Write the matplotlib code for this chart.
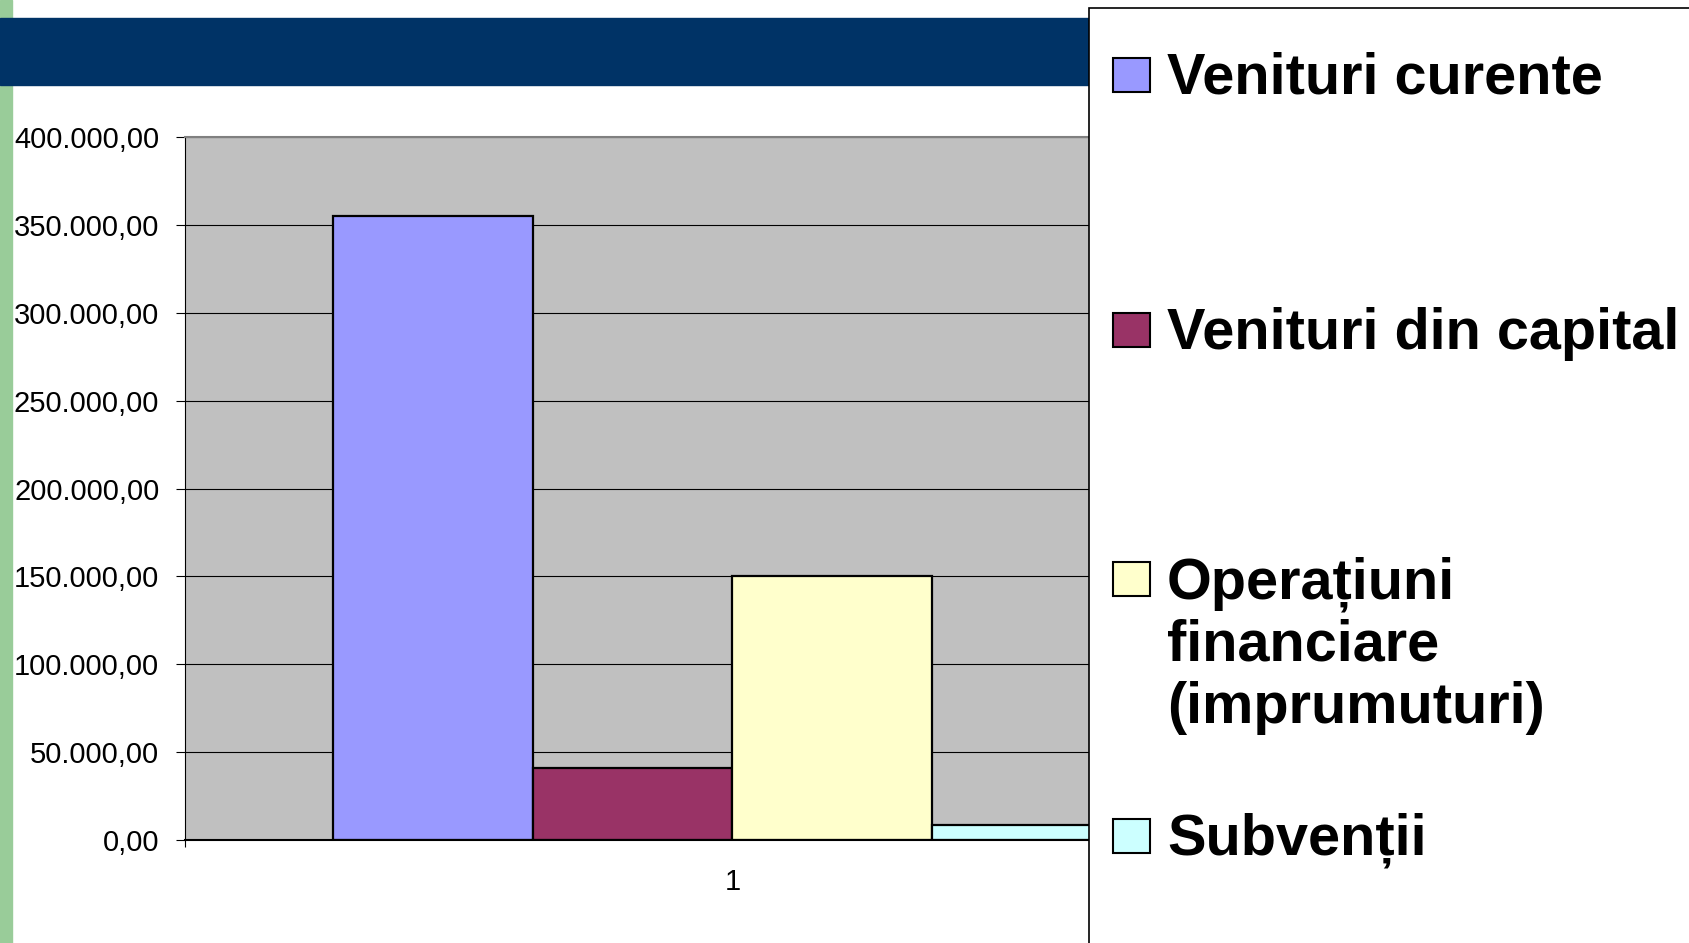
import matplotlib
matplotlib.use("Agg")
import matplotlib.pyplot as plt
from matplotlib.patches import Rectangle
from matplotlib.ticker import FuncFormatter

plt.rcParams["font.family"] = ["Liberation Sans", "DejaVu Sans"]

# data
categories = ["1"]
series = ["Venituri curente", "Venituri din capital",
          "Operațiuni\nfinanciare\n(imprumuturi)", "Subvenții"]
values = [355000, 41000, 150000, 8500]
colors = ["#9999FF", "#993366", "#FFFFCC", "#CCFFFF"]
y_ticks = [0, 50000, 100000, 150000, 200000, 250000, 300000, 350000, 400000]

W, H = 1690, 943


def fx(px):
    return px / W


def fy(py):
    return 1 - py / H


fig = plt.figure(figsize=(W / 100, H / 100), dpi=100)

# slide decorations
fig.add_artist(Rectangle((0, 0), fx(12), 1, transform=fig.transFigure,
                         color="#99CC99", zorder=0.2))
fig.add_artist(Rectangle((0, fy(85)), fx(1089), (85 - 18) / H,
                         transform=fig.transFigure, color="#003366", zorder=0.3))

ax = fig.add_axes([fx(185), fy(840), (1280 - 185) / W, (840 - 137) / H])
ax.set_facecolor("#C0C0C0")

group = 0.73
w = group / len(values)
x0 = 1 - group / 2
for i, (v, c) in enumerate(zip(values, colors)):
    ax.bar(x0 + i * w, v, width=w, align="edge", color=c,
           edgecolor="black", linewidth=1.6, zorder=2)

ax.set_xlim(0.5, 1.5)
ax.set_ylim(y_ticks[0], y_ticks[-1])
ax.set_yticks(y_ticks)
ax.yaxis.set_major_formatter(FuncFormatter(
    lambda v, _: f"{v:,.2f}".replace(",", "X").replace(".", ",").replace("X", ".")))
ax.yaxis.grid(True, color="black", linewidth=0.8)
ax.set_axisbelow(True)

ax.set_xticks([1])
ax.set_xticklabels(categories)
ax.set_xticks([0.5, 1.5], minor=True)
ax.tick_params(axis="x", which="major", length=0, pad=20, labelsize=21)
ax.tick_params(axis="x", which="minor", length=5, width=0.8, direction="out")
ax.tick_params(axis="y", length=6.5, width=0.8, pad=12, labelsize=21)

ax.spines["top"].set_color("#808080")
ax.spines["top"].set_linewidth(1.5)
ax.spines["left"].set_linewidth(0.8)
ax.spines["bottom"].set_linewidth(1.5)
ax.spines["right"].set_visible(False)

# legend panel
fig.add_artist(Rectangle((fx(1089), -0.05), 0.5, fy(8) + 0.05,
                         transform=fig.transFigure, facecolor="white",
                         edgecolor="black", linewidth=1.2, zorder=5))
baselines = [94, 349, 598, 855]
for label, c, base in zip(series, colors, baselines):
    fig.add_artist(Rectangle((fx(1113), fy(base - 2)), (1150 - 1113) / W, 34 / H,
                             transform=fig.transFigure, facecolor=c,
                             edgecolor="black", linewidth=1.5, zorder=6))
    for k, line in enumerate(label.split("\n")):
        fig.text(fx(1167), fy(base + k * 62.5), line, fontsize=41.5,
                 fontweight="bold", ha="left", va="baseline", zorder=7)

fig.savefig("out.png", dpi=100)
